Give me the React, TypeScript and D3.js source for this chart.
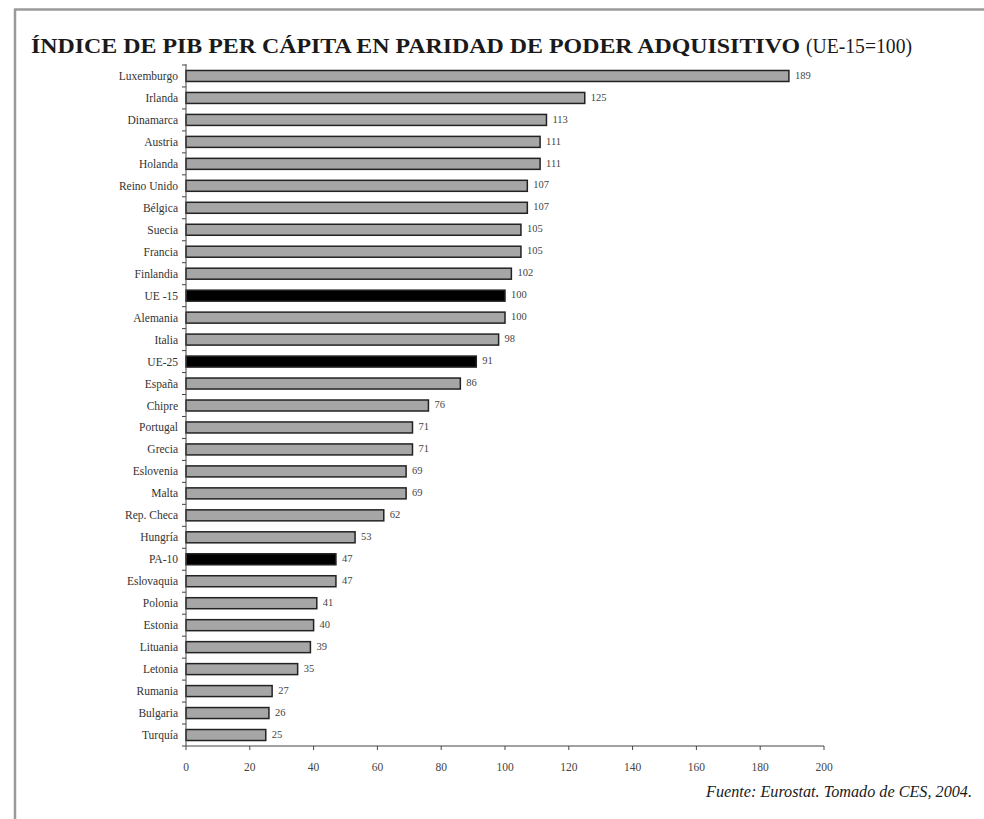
import React from "react";
import * as d3 from "d3";

const categories = ["Luxemburgo","Irlanda","Dinamarca","Austria","Holanda","Reino Unido","Bélgica","Suecia","Francia","Finlandia","UE -15","Alemania","Italia","UE-25","España","Chipre","Portugal","Grecia","Eslovenia","Malta","Rep. Checa","Hungría","PA-10","Eslovaquia","Polonia","Estonia","Lituania","Letonia","Rumania","Bulgaria","Turquía"];
const values = [189,125,113,111,111,107,107,105,105,102,100,100,98,91,86,76,71,71,69,69,62,53,47,47,41,40,39,35,27,26,25];
const highlighted = ["UE -15","UE-25","PA-10"];
const xTicks = [0,20,40,60,80,100,120,140,160,180,200];
const title = "ÍNDICE DE PIB PER CÁPITA EN PARIDAD DE PODER ADQUISITIVO";
const titleSuffix = "(UE-15=100)";
const source = "Fuente: Eurostat. Tomado de CES, 2004.";

export default function App() {
  const W = 984, H = 819;
  const x0 = 186, x1 = 824, yTop = 65, yBot = 746;
  const x = d3.scaleLinear().domain([0, 200]).range([x0, x1]);
  const y = d3.scaleBand().domain(categories).range([yTop, yBot]).paddingInner(0.5).paddingOuter(0.25);
  const step = y.step();
  const serif = "'Liberation Serif', 'Times New Roman', serif";
  const bh = 11;
  return (
    <svg width={W} height={H} style={{ position: "absolute", left: 0, top: 0, background: "#fff" }}>
      <rect x={0} y={0} width={W} height={H} fill="#fff" />
      <line x1={15} y1={9.5} x2={W} y2={9.5} stroke="#9a9a9a" strokeWidth={2.5} />
      <line x1={15} y1={8.5} x2={15} y2={H} stroke="#9a9a9a" strokeWidth={2.5} />
      <text x={31} y={53} fontFamily={serif} fontSize={21} fontWeight="bold" fill="#1a1a1a" textLength={769} lengthAdjust="spacingAndGlyphs">{title}</text>
      <text x={806} y={53} fontFamily={serif} fontSize={21} fill="#1a1a1a" textLength={106} lengthAdjust="spacingAndGlyphs">{titleSuffix}</text>
      {categories.map((c, i) => {
        const cy = yTop + step * (i + 0.5);
        const hl = highlighted.includes(c);
        return (
          <g key={c}>
            <rect x={x(0)} y={cy - bh / 2} width={x(values[i]) - x(0)} height={bh}
              fill={hl ? "#000" : "#a6a6a6"} stroke="#222" strokeWidth={1.5} />
            <text x={x0 - 8} y={cy} dy="0.35em" textAnchor="end" fontFamily={serif} fontSize={11.5} fill="#333">{c}</text>
            <text x={x(values[i]) + 6} y={cy - 1} dy="0.35em" fontFamily={serif} fontSize={10.5} fill="#444">{values[i]}</text>
          </g>
        );
      })}
      <line x1={x0} y1={yTop - 1} x2={x0} y2={yBot} stroke="#444" strokeWidth={1} />
      {d3.range(categories.length + 1).map(i => (
        <line key={"yt" + i} x1={x0 - 4} x2={x0} y1={yTop + step * i} y2={yTop + step * i} stroke="#444" strokeWidth={1} />
      ))}
      <line x1={x0} y1={yBot} x2={x1} y2={yBot} stroke="#444" strokeWidth={1} />
      {xTicks.map(t => (
        <g key={"xt" + t}>
          <line x1={x(t)} x2={x(t)} y1={yBot} y2={yBot + 4} stroke="#444" strokeWidth={1} />
          <text x={x(t)} y={yBot + 25} textAnchor="middle" fontFamily={serif} fontSize={11.5} fill="#444">{t}</text>
        </g>
      ))}
      <text x={972} y={797} textAnchor="end" fontFamily={serif} fontStyle="italic" fontSize={17} fill="#1a1a1a" textLength={266} lengthAdjust="spacingAndGlyphs">{source}</text>
    </svg>
  );
}
